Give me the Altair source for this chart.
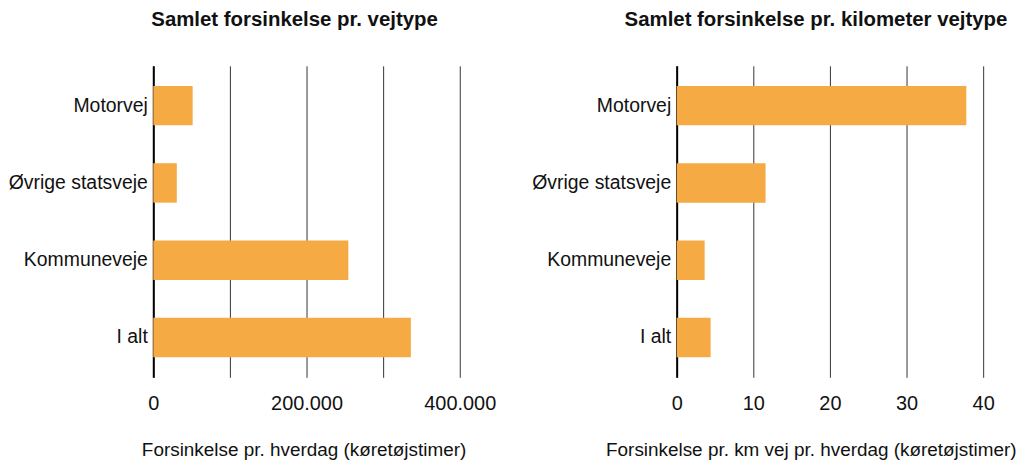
import altair as alt
import pandas as pd

categories = ["Motorvej", "Øvrige statsveje", "Kommuneveje", "I alt"]
total_delay = [51400, 30700, 254600, 336200]
delay_per_km = [37.8, 11.6, 3.65, 4.43]

df = pd.DataFrame({
    "vejtype": categories,
    "total": total_delay,
    "perkm": delay_per_km,
})

FONT = "Liberation Sans"
BAR = "#F5AA43"
INK = "#111111"

def panel(field, title, axis_title, domain, grid_vals, label_expr, title_dx, title_x, title_align):
    return alt.Chart(df).mark_bar(color=BAR).encode(
        x=alt.X(f"{field}:Q",
                scale=alt.Scale(domain=domain, nice=False, zero=True),
                axis=alt.Axis(values=grid_vals, labelExpr=label_expr,
                              title=axis_title, grid=True, gridColor="#333333",
                              gridWidth=1, domain=False, ticks=False,
                              labelFlush=False, labelOverlap=False,
                              labelPadding=16, titlePadding=28,
                              labelFontSize=20, titleFontSize=19,
                              titleFontWeight="normal", labelColor=INK,
                              titleColor=INK, labelFont=FONT, titleFont=FONT,
                              titleX=title_x, titleAlign=title_align)),
        y=alt.Y("vejtype:N", sort=categories,
                scale=alt.Scale(paddingInner=0.49, paddingOuter=0.26),
                axis=alt.Axis(title=None, ticks=False, domain=True,
                              domainColor="#000000", domainWidth=2,
                              labelPadding=6, labelFontSize=19.5, labelFont=FONT,
                              labelColor=INK, grid=False)),
    ).properties(
        width=308, height=313,
        title=alt.TitleParams(title, fontSize=20.5, fontWeight="bold", font=FONT,
                              color=INK, offset=36, anchor="middle", dx=title_dx),
    )

left = panel("total", "Samlet forsinkelse pr. vejtype",
             "Forsinkelse pr. hverdag (køretøjstimer)",
             [0, 400000], [0, 100000, 200000, 300000, 400000],
             "datum.value % 200000 == 0 ? replace(format(datum.value, ','), ',', '.') : ''",
             -12, 151, "center")
right = panel("perkm", "Samlet forsinkelse pr. kilometer vejtype",
              "Forsinkelse pr. km vej pr. hverdag (køretøjstimer)",
              [0, 40], [0, 10, 20, 30, 40], "format(datum.value, 'd')",
              -14, 341, "right")

chart = alt.hconcat(left, right, spacing=218, bounds="flush").configure_view(
    stroke=None
).properties(padding=0)

chart.save("out.html", embed_options={"renderer": "svg", "actions": False})
